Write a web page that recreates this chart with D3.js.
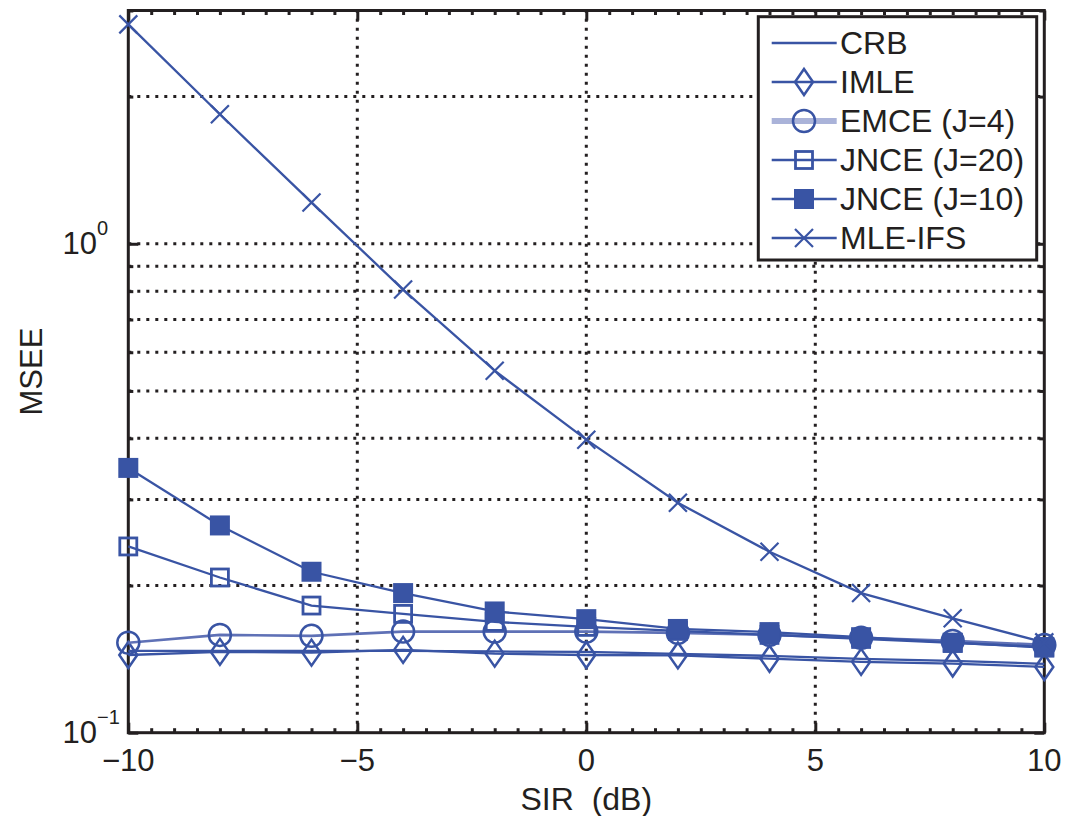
<!DOCTYPE html>
<html>
<head>
<meta charset="utf-8">
<script src="https://cdn.jsdelivr.net/npm/d3@7"></script>
<style>
  body { margin: 0; background: #fff; }
  svg { display: block; font-family: "Liberation Sans", Arial, Helvetica, sans-serif; }
</style>
</head>
<body>
<svg id="chart" width="1067" height="816"></svg>
<script>
// SIR grid (dB)
const sir = [-10, -8, -6, -4, -2, 0, 2, 4, 6, 8, 10];

// MSEE per estimator
const crb    = [0.1470, 0.1470, 0.1470, 0.1470, 0.1466, 0.1463, 0.1449, 0.1436, 0.1416, 0.1403, 0.1383];
const imle   = [0.1442, 0.1463, 0.1458, 0.1477, 0.1451, 0.1442, 0.1439, 0.1417, 0.1396, 0.1385, 0.1363];
const emce4  = [0.1528, 0.1585, 0.1578, 0.1610, 0.1610, 0.1610, 0.1600, 0.1585, 0.1563, 0.1541, 0.1512];
const jnce20 = [0.2404, 0.2077, 0.1820, 0.1750, 0.1685, 0.1646, 0.1615, 0.1585, 0.1555, 0.1526, 0.1498];
const jnce10 = [0.3480, 0.2654, 0.2134, 0.1930, 0.1770, 0.1707, 0.1630, 0.1606, 0.1568, 0.1528, 0.1493];
const mleIfs = [2.81, 1.84, 1.215, 0.806, 0.550, 0.3975, 0.2953, 0.2344, 0.1930, 0.1714, 0.1530];

const seriesNames = ["CRB", "IMLE", "EMCE (J=4)", "JNCE (J=20)", "JNCE (J=10)", "MLE-IFS"];

// Axis ticks
const xTicks = [-10, -5, 0, 5, 10];
const yMajor = [0.1, 1];
const yMinor = [0.2, 0.3, 0.4, 0.5, 0.6, 0.7, 0.8, 0.9, 2, 3];
const yGrid  = [0.2, 0.3, 0.4, 0.5, 0.6, 0.7, 0.8, 0.9, 1, 2];

const blue = "#3954a4";
const ink = "#231f20";

const series = [
  { name: seriesNames[0], values: crb,    marker: "none" },
  { name: seriesNames[1], values: imle,   marker: "diamond" },
  { name: seriesNames[2], values: emce4,  marker: "circle", light: true },
  { name: seriesNames[3], values: jnce20, marker: "square" },
  { name: seriesNames[4], values: jnce10, marker: "filled" },
  { name: seriesNames[5], values: mleIfs, marker: "cross" }
];

const svg = d3.select("#chart");
const plotL = 128.3, plotR = 1044.3, plotT = 10.5, plotB = 732.7;

const x = d3.scaleLinear().domain([-10, 10]).range([plotL, plotR]);
const y = d3.scaleLog().domain([0.1, 3]).range([plotB, plotT]);

// dotted grid
const grid = svg.append("g")
  .attr("stroke", ink).attr("stroke-width", 3).attr("stroke-dasharray", "3,6");
grid.selectAll("line.gx").data(xTicks.filter(v => v > -10 && v < 10)).join("line")
  .attr("class", "gx")
  .attr("x1", d => x(d)).attr("x2", d => x(d)).attr("y1", plotB).attr("y2", plotT);
grid.selectAll("line.gy").data(yGrid).join("line")
  .attr("class", "gy")
  .attr("y1", d => y(d)).attr("y2", d => y(d)).attr("x1", plotL).attr("x2", plotR);

// ticks on all four sides, pointing inward
const xMinor = d3.range(-9.5, 10, 0.5).filter(v => v % 5 !== 0);
function tickAxis(axis, tr) {
  const g = svg.append("g").attr("transform", tr).call(axis);
  g.select(".domain").remove();
  g.selectAll(".tick line").attr("stroke", ink).attr("stroke-width", 3);
  g.selectAll(".tick text").remove();
  return g;
}
tickAxis(d3.axisBottom(x).tickValues(xTicks).tickSize(-10), `translate(0,${plotB})`);
tickAxis(d3.axisBottom(x).tickValues(xMinor).tickSize(-4.5), `translate(0,${plotB})`);
tickAxis(d3.axisTop(x).tickValues(xTicks).tickSize(-10), `translate(0,${plotT})`);
tickAxis(d3.axisTop(x).tickValues(xMinor).tickSize(-4.5), `translate(0,${plotT})`);
tickAxis(d3.axisLeft(y).tickValues(yMajor).tickSize(-10), `translate(${plotL},0)`);
tickAxis(d3.axisLeft(y).tickValues(yMinor).tickSize(-5), `translate(${plotL},0)`);
tickAxis(d3.axisRight(y).tickValues(yMajor).tickSize(-10), `translate(${plotR},0)`);
tickAxis(d3.axisRight(y).tickValues(yMinor).tickSize(-5), `translate(${plotR},0)`);

// axes box
svg.append("rect")
  .attr("x", plotL).attr("y", plotT).attr("width", plotR - plotL).attr("height", plotB - plotT)
  .attr("fill", "none").attr("stroke", ink).attr("stroke-width", 3);

// x tick labels
const fmt = d3.format("d");
svg.append("g").selectAll("text").data(xTicks).join("text")
  .attr("x", d => x(d)).attr("y", 771)
  .attr("text-anchor", "middle").attr("font-size", 31).attr("fill", ink)
  .text(d => fmt(d));

// y tick labels: 10 with exponent
const yl = svg.append("g").attr("fill", ink);
yMajor.forEach(v => {
  const e = Math.round(Math.log10(v));
  const base = y(v) + 10.5;
  yl.append("text").attr("x", 97).attr("y", base).attr("text-anchor", "end")
    .attr("font-size", 31).text("10");
  yl.append("text").attr("x", 97).attr("y", base - 19).attr("text-anchor", "start")
    .attr("font-size", 20).text(fmt(e));
});

// axis titles
svg.append("text").attr("transform", `translate(42,${(plotT + plotB) / 2}) rotate(-90)`)
  .attr("text-anchor", "middle").attr("font-size", 31).attr("fill", ink).text("MSEE");
svg.append("text").attr("x", (plotL + plotR) / 2).attr("y", 810)
  .attr("text-anchor", "middle").attr("font-size", 32).attr("fill", ink)
  .style("white-space", "pre").text("SIR  (dB)");

// marker drawing
function drawMarker(g, kind, cx, cy) {
  if (kind === "circle") {
    g.append("circle").attr("cx", cx).attr("cy", cy).attr("r", 11)
      .attr("fill", "none").attr("stroke", blue).attr("stroke-width", 2.5);
  } else if (kind === "diamond") {
    g.append("path").attr("d", `M${cx},${cy - 13}L${cx + 9},${cy}L${cx},${cy + 13}L${cx - 9},${cy}Z`)
      .attr("fill", "none").attr("stroke", blue).attr("stroke-width", 2.5);
  } else if (kind === "square") {
    g.append("rect").attr("x", cx - 8.5).attr("y", cy - 8.5).attr("width", 17).attr("height", 17)
      .attr("fill", "none").attr("stroke", blue).attr("stroke-width", 2.8);
  } else if (kind === "filled") {
    g.append("rect").attr("x", cx - 10).attr("y", cy - 10).attr("width", 20).attr("height", 20)
      .attr("fill", blue);
  } else if (kind === "cross") {
    g.append("path").attr("d", `M${cx - 9},${cy - 9}L${cx + 9},${cy + 9}M${cx - 9},${cy + 9}L${cx + 9},${cy - 9}`)
      .attr("stroke", blue).attr("stroke-width", 2.2);
  }
}

const line = d3.line().x(d => x(d[0])).y(d => y(d[1]));
const plot = svg.append("g");
series.forEach(s => {
  const pts = sir.map((v, i) => [v, s.values[i]]);
  const g = plot.append("g");
  g.append("path").attr("d", line(pts)).attr("fill", "none")
    .attr("stroke", s.light ? "#5f71b6" : blue)
    .attr("stroke-width", s.light ? 2.6 : 2.3);
  pts.forEach(p => drawMarker(g, s.marker, x(p[0]), y(p[1])));
});

// legend
const lg = svg.append("g");
lg.append("rect").attr("x", 758.3).attr("y", 16.7).attr("width", 278.4).attr("height", 243.3)
  .attr("fill", "#fff").attr("stroke", ink).attr("stroke-width", 3);
series.forEach((s, i) => {
  const ly = 43 + i * 39;
  lg.append("line").attr("x1", 771.7).attr("x2", 836.7).attr("y1", ly).attr("y2", ly)
    .attr("stroke", s.light ? "#aab3d9" : blue).attr("stroke-width", s.light ? 6 : 2.5);
  drawMarker(lg, s.marker, 804, ly);
  lg.append("text").attr("x", 840).attr("y", ly + 10.5).attr("font-size", 32).attr("fill", ink)
    .text(s.name);
});
</script>
</body>
</html>
